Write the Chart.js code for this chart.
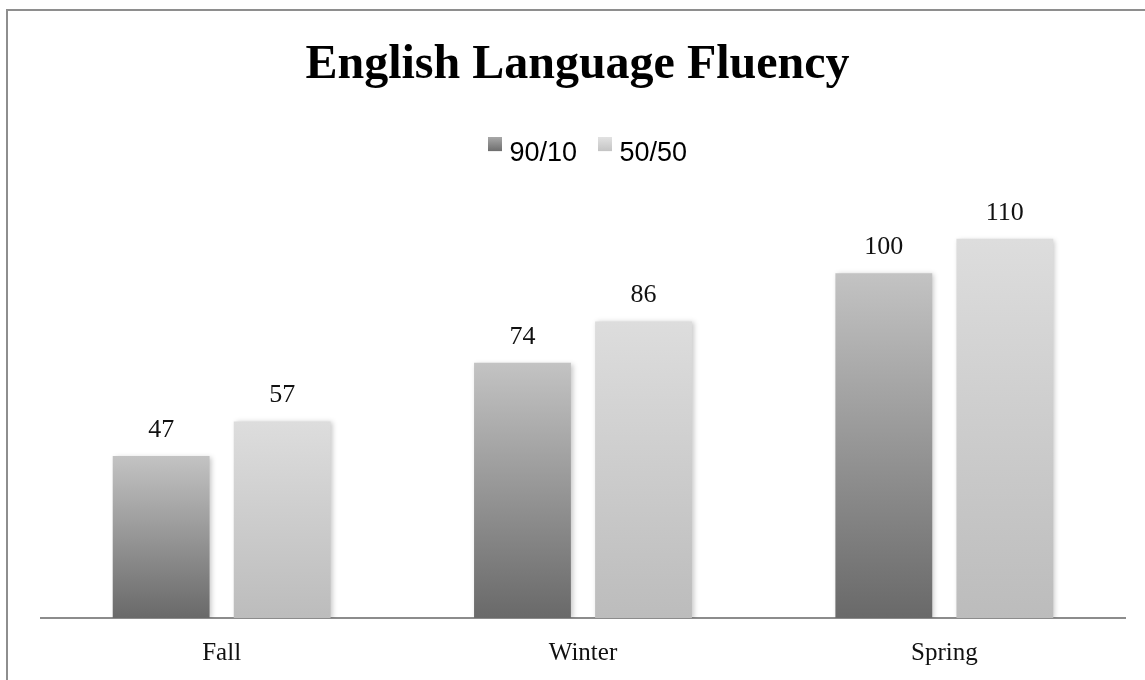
<!DOCTYPE html>
<html>
<head>
<meta charset="utf-8">
<script src="https://cdn.jsdelivr.net/npm/chart.js@4/dist/chart.umd.min.js"></script>
<style>
  html, body { margin: 0; padding: 0; background: #fff; overflow: hidden; }
  #wrap { position: relative; width: 1145px; height: 680px; }
  #frame { position: absolute; left: 6px; top: 9px; width: 1200px; height: 700px;
           border-top: 2px solid #8e8e8e; border-left: 2px solid #8e8e8e; pointer-events: none; }
  canvas { position: absolute; left: 0; top: 0; }
</style>
</head>
<body>
<div id="wrap">
  <div id="frame"></div>
  <canvas id="c" width="1145" height="680"></canvas>
</div>
<script>
const categories = ["Fall", "Winter", "Spring"];
const series9010 = [47, 74, 100];
const series5050 = [57, 86, 110];
const seriesNames = ["90/10", "50/50"];

function gradientFill(topColor, bottomColor, fallback) {
  return function (ctx) {
    const chart = ctx.chart;
    if (!chart.chartArea || ctx.type !== 'data' || !chart.scales.y) return fallback;
    const ys = chart.scales.y;
    const top = ys.getPixelForValue(ctx.raw);
    const bot = ys.getPixelForValue(0);
    if (!isFinite(top) || !isFinite(bot) || top === bot) return fallback;
    const g = chart.ctx.createLinearGradient(0, top, 0, bot);
    g.addColorStop(0, topColor);
    g.addColorStop(1, bottomColor);
    return g;
  };
}

function legendSwatch(topColor, bottomColor) {
  const cv = document.createElement('canvas');
  cv.width = 14; cv.height = 32;
  const c = cv.getContext('2d');
  const g = c.createLinearGradient(0, 0, 0, 14);
  g.addColorStop(0, topColor);
  g.addColorStop(1, bottomColor);
  c.fillStyle = g;
  c.fillRect(0, 0, 14, 14);
  return cv;
}

const swatches = [legendSwatch('#a8a8a8', '#6e6e6e'), legendSwatch('#e2e2e2', '#c4c4c4')];

const barPlugin = {
  id: 'barShadowLabels',
  afterLayout(chart) {
    if (chart.legend) {
      chart.legend.left += 13;
      chart.legend.right += 13;
    }
  },
  beforeDatasetsDraw(chart) {
    const c = chart.ctx;
    c.save();
    c.shadowColor = 'rgba(0,0,0,0.22)';
    c.shadowBlur = 5;
    c.shadowOffsetX = 2;
    c.shadowOffsetY = 1;
  },
  afterDatasetsDraw(chart) {
    chart.ctx.restore();
    const c = chart.ctx;
    c.save();
    c.font = '26px "Liberation Serif", "DejaVu Serif", serif';
    c.fillStyle = '#111';
    c.textAlign = 'center';
    c.textBaseline = 'middle';
    chart.data.datasets.forEach((ds, i) => {
      const meta = chart.getDatasetMeta(i);
      meta.data.forEach((bar, j) => {
        c.fillText(String(ds.data[j]), bar.x, bar.y - 26);
      });
    });
    c.restore();
  }
};

new Chart(document.getElementById('c'), {
  type: 'bar',
  data: {
    labels: categories,
    datasets: [
      {
        label: seriesNames[0],
        data: series9010,
        backgroundColor: gradientFill('#c3c3c3', '#696969', '#979797')
      },
      {
        label: seriesNames[1],
        data: series5050,
        backgroundColor: gradientFill('#dddddd', '#bcbcbc', '#d0d0d0')
      }
    ]
  },
  options: {
    responsive: false,
    animation: false,
    devicePixelRatio: 1,
    layout: { padding: { left: 30, right: 20, top: 10, bottom: 0 } },
    datasets: {
      bar: { categoryPercentage: 0.67, barPercentage: 0.80, borderWidth: 0 }
    },
    scales: {
      x: {
        grid: { display: false, drawTicks: false },
        border: { display: true, color: '#8c8c8c', width: 2 },
        afterFit(scale) { scale.height = 62; },
        ticks: {
          padding: 23,
          color: '#111',
          font: { family: '"Liberation Serif", "DejaVu Serif", serif', size: 25, lineHeight: 1.0 }
        }
      },
      y: {
        display: true,
        min: 0,
        max: 128,
        grid: { display: false },
        border: { display: false },
        ticks: { display: false },
        afterFit(scale) { scale.width = 11; }
      }
    },
    plugins: {
      title: {
        display: true,
        text: 'English Language Fluency',
        color: '#000',
        font: { family: '"Liberation Serif", "DejaVu Serif", serif', size: 48, weight: 'bold' },
        padding: { top: 27, bottom: 18 }
      },
      legend: {
        position: 'top',
        labels: {
          boxWidth: 2,
          boxHeight: 14,
          padding: 27,
          usePointStyle: true,
          color: '#111',
          font: { family: '"Liberation Sans", Arial, sans-serif', size: 27 },
          generateLabels(chart) {
            return chart.data.datasets.map((ds, i) => ({
              text: ds.label,
              fillStyle: '#999',
              strokeStyle: '#999',
              lineWidth: 0,
              pointStyle: swatches[i],
              hidden: false,
              datasetIndex: i
            }));
          }
        }
      },
      tooltip: { enabled: false }
    }
  },
  plugins: [barPlugin]
});
</script>
</body>
</html>
